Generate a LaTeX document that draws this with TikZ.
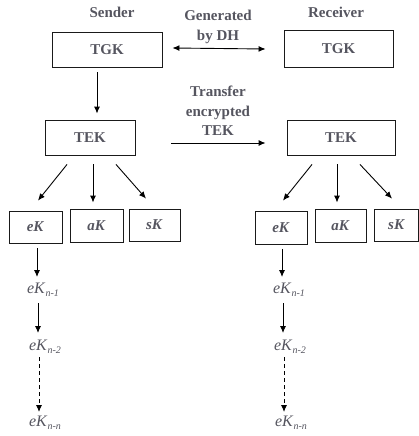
\documentclass[tikz,border=0pt]{standalone}
\usepackage{fontspec}
\setmainfont{Liberation Serif}
\usetikzlibrary{arrows.meta}
\definecolor{txt}{HTML}{55555F}
\definecolor{ln}{HTML}{1A1A1A}
\newcommand{\ksub}[2]{\textit{#1}\raisebox{-3.5pt}{\fontsize{10}{10}\selectfont\itshape #2}}
\tikzset{
  keybox/.style={draw=ln, line width=0.9pt, rectangle, inner sep=0pt, text=txt,
     font=\fontsize{15}{19.5}\selectfont\bfseries},
  lbl/.style={text=txt, align=center, inner sep=0pt, font=\fontsize{15}{19.5}\selectfont\bfseries},
  chain/.style={text=txt, inner sep=0pt, font=\fontsize{16}{18}\selectfont},
  arr/.style={draw=black, line width=0.9pt, -{Latex[length=7pt,width=6pt]}},
  arrtwo/.style={draw=black, line width=0.9pt, {Latex[length=7pt,width=6pt]}-{Latex[length=7pt,width=6pt]}},
  dsh/.style={arr, dash pattern=on 4pt off 3pt}
}
\begin{document}
\begin{tikzpicture}[x=1pt,y=-1pt]
\useasboundingbox (0,0) rectangle (419,436);
% headers
\node[lbl] (snd) at (112,12) {Sender};
\node[lbl] (rcv) at (336,12) {Receiver};
\node[lbl] (gen) at (218,27) {Generated\\by DH};
\node[lbl] (trn) at (218,111) {Transfer\\encrypted\\TEK};
% boxes
\node[keybox, minimum width=110pt, minimum height=35pt] (tgkL) at (107,49.5) {TGK};
\node[keybox, minimum width=109pt, minimum height=37pt] (tgkR) at (338.5,48.5) {TGK};
\node[keybox, minimum width=90pt, minimum height=35pt] (tekL) at (90,137.5) {TEK};
\node[keybox, minimum width=108pt, minimum height=35pt] (tekR) at (341,137.5) {TEK};
\node[keybox, minimum width=53pt, minimum height=32pt] (ekL) at (35.5,227) {\textit{eK}};
\node[keybox, minimum width=53pt, minimum height=33pt] (akL) at (96.5,225.5) {\textit{aK}};
\node[keybox, minimum width=51pt, minimum height=32pt] (skL) at (154.5,225) {\textit{sK}};
\node[keybox, minimum width=52pt, minimum height=33pt] (ekR) at (281,227.5) {\textit{eK}};
\node[keybox, minimum width=51pt, minimum height=33pt] (akR) at (340.5,225.5) {\textit{aK}};
\node[keybox, minimum width=44pt, minimum height=32pt] (skR) at (396.5,225) {\textit{sK}};
% chains
\node[chain] (kL1) at (43,290) {\ksub{eK}{n-1}};
\node[chain] (kL2) at (45,347) {\ksub{eK}{n-2}};
\node[chain] (kLn) at (45,423) {\ksub{eK}{n-n}};
\node[chain] (kR1) at (289,290) {\ksub{eK}{n-1}};
\node[chain] (kR2) at (290,347) {\ksub{eK}{n-2}};
\node[chain] (kRn) at (291,423) {\ksub{eK}{n-n}};
% top connectors
\draw[arrtwo] ([xshift=10pt,yshift=1.5pt]tgkL.east) -- ([xshift=-18pt,yshift=-0.5pt]tgkR.west);
\draw[arr] ([xshift=-10pt,yshift=-5pt]tgkL.south) -- ([xshift=7pt,yshift=6pt]tekL.north);
\draw[arr] ([xshift=36pt,yshift=-5.5pt]tekL.east) -- ([xshift=-21pt,yshift=-5.5pt]tekR.west);
% tek children left
\draw[arr] ([xshift=-23pt,yshift=-9pt]tekL.south) -- ([xshift=2.5pt,yshift=10pt]ekL.north);
\draw[arr] ([xshift=3pt,yshift=-9pt]tekL.south) -- ([xshift=-3.5pt,yshift=6pt]akL.north);
\draw[arr] ([xshift=26pt,yshift=-9pt]tekL.south) -- ([xshift=-8.5pt,yshift=10pt]skL.north);
% tek children right
\draw[arr] ([xshift=-29pt,yshift=-9pt]tekR.south) -- ([xshift=2pt,yshift=10pt]ekR.north);
\draw[arr] ([xshift=-4pt,yshift=-9pt]tekR.south) -- ([xshift=-3.5pt,yshift=6pt]akR.north);
\draw[arr] ([xshift=19pt,yshift=-9pt]tekR.south) -- ([xshift=-4.5pt,yshift=10pt]skR.north);
% chains left
\draw[arr] ([xshift=1.5pt,yshift=-5pt]ekL.south) -- ([xshift=-6pt,yshift=13pt]kL1.center);
\draw[arr] ([xshift=-5pt,yshift=-13pt]kL1.center) -- ([xshift=-7pt,yshift=14pt]kL2.center);
\draw[dsh] ([xshift=-6pt,yshift=-10pt]kL2.center) -- ([xshift=-6pt,yshift=11pt]kLn.center);
% chains right
\draw[arr] ([xshift=1pt,yshift=-4.5pt]ekR.south) -- ([xshift=-7pt,yshift=13pt]kR1.center);
\draw[arr] ([xshift=-6pt,yshift=-13pt]kR1.center) -- ([xshift=-7pt,yshift=14pt]kR2.center);
\draw[dsh] ([xshift=-6pt,yshift=-10pt]kR2.center) -- ([xshift=-7pt,yshift=11pt]kRn.center);
\end{tikzpicture}
\end{document}
